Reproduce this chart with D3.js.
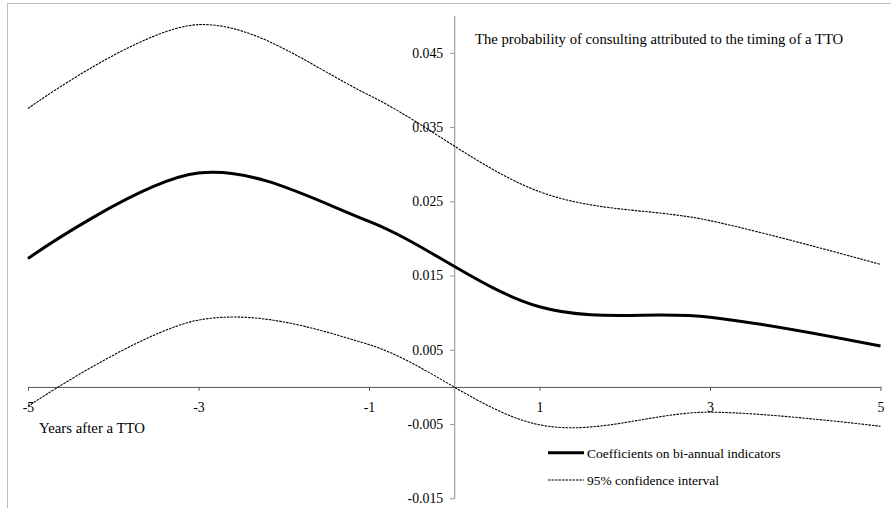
<!DOCTYPE html>
<html>
<head>
<meta charset="utf-8">
<script src="https://cdn.jsdelivr.net/npm/d3@7"></script>
<style>
  body { margin: 0; background: #fff; }
  text { font-family: 'Liberation Serif', 'Times New Roman', serif; fill: #000; }
</style>
</head>
<body>
<div id="vis"></div>
<script>
// years relative to the TTO (bi-annual indicators)
const years = [-5, -3, -1, 1, 3, 5]
const coef = [0.0173, 0.0288, 0.0223, 0.0108, 0.0094, 0.0055]
const upper = [0.0375, 0.0488, 0.0393, 0.0263, 0.0224, 0.0165]
const lower = [-0.0026, 0.009, 0.0057, -0.0051, -0.0034, -0.0053]

const xTicks = [-5, -3, -1, 1, 3, 5]
const yTicks = [-0.015, -0.005, 0.005, 0.015, 0.025, 0.035, 0.045]

const width = 891,
  height = 508

const svg = d3
  .select('#vis')
  .append('svg')
  .attr('width', width)
  .attr('height', height)

// chart frame (cropped on the right and bottom)
svg
  .append('rect')
  .attr('x', 7.5)
  .attr('y', 3.5)
  .attr('width', 1000)
  .attr('height', 1000)
  .attr('fill', 'none')
  .attr('stroke', '#bdbdbd')

const x = d3.scaleLinear().domain([-5, 5]).range([28, 880.5])
const y = d3.scaleLinear().domain([-0.015, 0.05]).range([498.3, 15.7])

// y axis crosses at year 0
const yAxis = svg
  .append('g')
  .attr('transform', 'translate(' + x(0) + ',0)')
  .call(
    d3
      .axisLeft(y)
      .tickValues(yTicks)
      .tickSize(4)
      .tickSizeOuter(0)
      .tickPadding(7)
      .tickFormat((d) => d.toFixed(3))
  )
yAxis.selectAll('path, line').attr('stroke', '#8c8c8c')
yAxis.selectAll('text').attr('font-size', 13.8).attr('font-family', null)

// x axis crosses at 0
const xAxis = svg
  .append('g')
  .attr('transform', 'translate(0,' + y(0) + ')')
  .call(
    d3
      .axisBottom(x)
      .tickValues(xTicks)
      .tickSize(4)
      .tickSizeOuter(0)
      .tickPadding(11)
      .tickFormat((d) => String(d))
  )
xAxis.selectAll('path, line').attr('stroke', '#555')
xAxis.selectAll('text').attr('font-size', 13.8).attr('font-family', null)

const line = (vals) =>
  d3
    .line()
    .x((d, i) => x(years[i]))
    .y((d) => y(d))
    .curve(d3.curveCardinal.tension(0))(vals)

const series = [
  { vals: upper, w: 1.1, dash: '2.5,1' },
  { vals: lower, w: 1.1, dash: '2.5,1' },
  { vals: coef, w: 3, dash: null }
]

svg
  .selectAll('path.series')
  .data(series)
  .enter()
  .append('path')
  .attr('class', 'series')
  .attr('d', (d) => line(d.vals))
  .attr('fill', 'none')
  .attr('stroke', '#000')
  .attr('stroke-width', (d) => d.w)
  .attr('stroke-dasharray', (d) => d.dash)

svg
  .append('text')
  .attr('x', 475)
  .attr('y', 44)
  .attr('font-size', 14.7)
  .text('The probability of consulting attributed to the timing of a TTO')

svg
  .append('text')
  .attr('x', 39)
  .attr('y', 432.5)
  .attr('font-size', 14.8)
  .text('Years after a TTO')

// legend
const legend = [
  { label: 'Coefficients on bi-annual indicators', w: 3, dash: null, y: 452.7 },
  { label: '95% confidence interval', w: 1.1, dash: '2.5,1', y: 480 }
]

const lg = svg.selectAll('g.legend').data(legend).enter().append('g').attr('class', 'legend')

lg.append('line')
  .attr('x1', 548)
  .attr('x2', 584)
  .attr('y1', (d) => d.y)
  .attr('y2', (d) => d.y)
  .attr('stroke', '#000')
  .attr('stroke-width', (d) => d.w)
  .attr('stroke-dasharray', (d) => d.dash)

lg.append('text')
  .attr('x', 587)
  .attr('y', (d) => d.y + 5)
  .attr('font-size', 13.5)
  .text((d) => d.label)
</script>
</body>
</html>
